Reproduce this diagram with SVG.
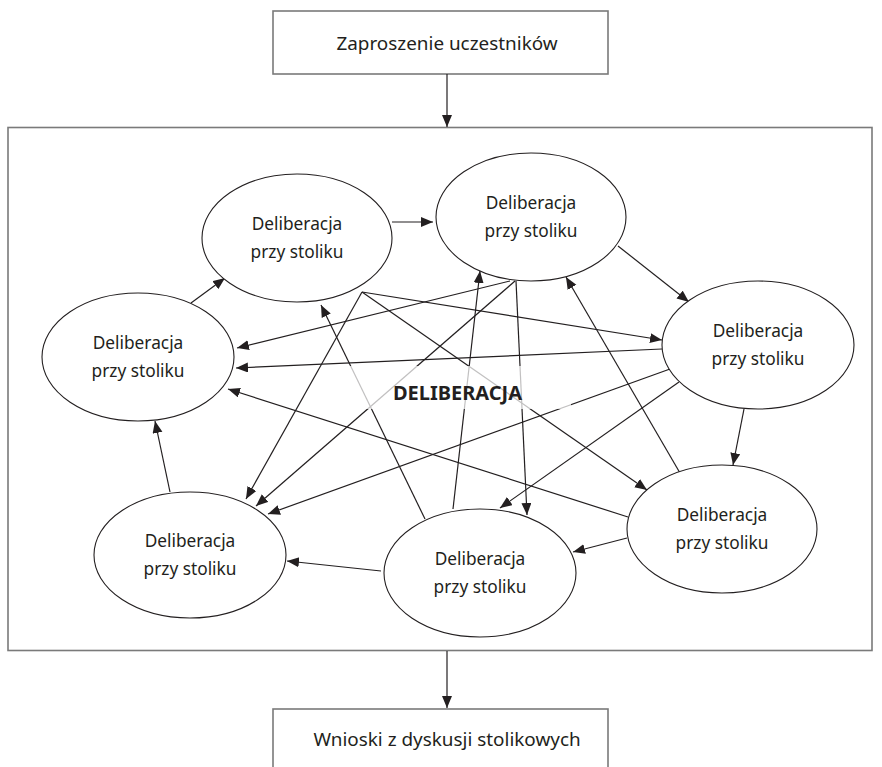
<svg xmlns="http://www.w3.org/2000/svg" width="882" height="767" viewBox="0 0 882 767">
<style>
.box{fill:#fff;stroke:#7a7a7a;stroke-width:1.6}
.node ellipse{fill:#fff;stroke:#231f20;stroke-width:1.1}
.t{font-family:"Noto Sans","Open Sans",sans-serif;font-size:17.3px;fill:#231f20;text-anchor:middle}
.bt{font-family:"Noto Sans","Open Sans",sans-serif;font-size:18.9px;fill:#231f20;text-anchor:middle}
.c line{stroke:#231f20;stroke-width:1.2;fill:none;marker-end:url(#ah)}
</style>
<defs>
<marker id="ah" markerUnits="userSpaceOnUse" markerWidth="13" markerHeight="11" refX="12" refY="5" orient="auto">
<path d="M0,0 L12,5 L0,10 z" fill="#231f20"/>
</marker>
</defs>
<rect width="882" height="767" fill="#fff"/>
<g id="main-box"><rect class="box" x="8" y="127.5" width="864" height="523"/></g>
<g id="top-box"><rect class="box" x="273" y="11" width="335" height="63"/><text class="bt" x="447" y="50">Zaproszenie uczestników</text></g>
<g id="bottom-box"><rect class="box" x="273" y="709" width="335" height="70"/><text class="bt" x="447" y="746">Wnioski z dyskusji stolikowych</text></g>
<g id="connectors" class="c">
<line x1="447" y1="74" x2="447" y2="127"/>
<line x1="447" y1="651" x2="447" y2="708"/>
<line x1="392" y1="222" x2="433" y2="222"/>
<line x1="618" y1="246" x2="689" y2="302"/>
<line x1="744" y1="409" x2="733" y2="465"/>
<line x1="627" y1="538" x2="573" y2="552"/>
<line x1="381" y1="571" x2="287" y2="561"/>
<line x1="170" y1="492" x2="155" y2="421"/>
<line x1="191" y1="303" x2="225" y2="278"/>
<line x1="362" y1="292" x2="662" y2="340"/>
<line x1="362" y1="292" x2="647" y2="490"/>
<line x1="362" y1="292" x2="246" y2="499"/>
<line x1="510" y1="281" x2="237" y2="348"/>
<line x1="515" y1="281" x2="256" y2="506"/>
<line x1="516" y1="281" x2="527" y2="515"/>
<line x1="453" y1="509" x2="480" y2="271"/>
<line x1="425" y1="519" x2="321" y2="305"/>
<line x1="662" y1="349" x2="236" y2="368"/>
<line x1="670" y1="369" x2="268" y2="514"/>
<line x1="679" y1="382" x2="500" y2="508"/>
<line x1="680" y1="473" x2="566" y2="277"/>
<line x1="628" y1="517" x2="228" y2="389"/>
</g>
<g id="center-label">
<rect x="345" y="366" width="226" height="43" fill="#fff" fill-opacity="0.72"/>
<text x="457.5" y="400" style="font-family:'Noto Sans','Open Sans',sans-serif;font-size:20px;font-weight:bold;fill:#231f20;text-anchor:middle">DELIBERACJA</text>
</g>
<g id="node-a" class="node"><ellipse cx="297" cy="238" rx="95" ry="64"/><text class="t" x="297" y="229.5">Deliberacja</text><text class="t" x="297" y="257.5">przy stoliku</text></g>
<g id="node-b" class="node"><ellipse cx="531" cy="217" rx="95" ry="64"/><text class="t" x="531" y="208.5">Deliberacja</text><text class="t" x="531" y="236.5">przy stoliku</text></g>
<g id="node-c" class="node"><ellipse cx="758" cy="345" rx="96" ry="64"/><text class="t" x="758" y="336.5">Deliberacja</text><text class="t" x="758" y="364.5">przy stoliku</text></g>
<g id="node-d" class="node"><ellipse cx="722" cy="529" rx="95" ry="64"/><text class="t" x="722" y="520.5">Deliberacja</text><text class="t" x="722" y="548.5">przy stoliku</text></g>
<g id="node-e" class="node"><ellipse cx="480" cy="573" rx="96" ry="64"/><text class="t" x="480" y="564.5">Deliberacja</text><text class="t" x="480" y="592.5">przy stoliku</text></g>
<g id="node-f" class="node"><ellipse cx="190" cy="555" rx="96" ry="63"/><text class="t" x="190" y="546.5">Deliberacja</text><text class="t" x="190" y="574.5">przy stoliku</text></g>
<g id="node-g" class="node"><ellipse cx="138" cy="357" rx="96" ry="64"/><text class="t" x="138" y="348.5">Deliberacja</text><text class="t" x="138" y="376.5">przy stoliku</text></g>
</svg>
